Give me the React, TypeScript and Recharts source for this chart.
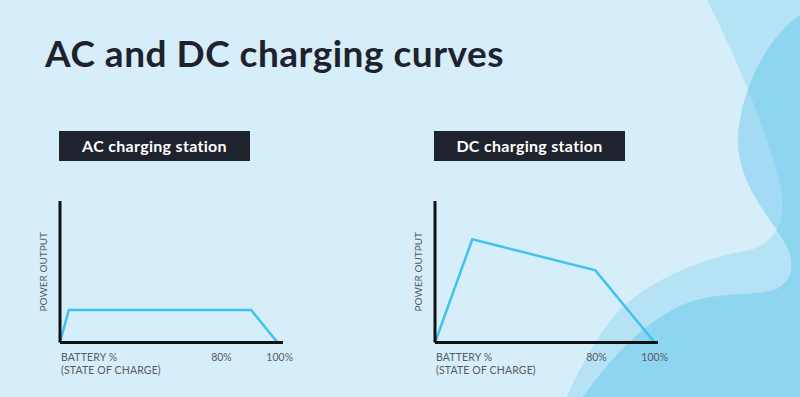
import React from 'react';
import { LineChart, Line, XAxis, YAxis } from 'recharts';

// x = position along the charge axis, y = relative power output
const acX = [0, 4, 87, 99];
const acY = [0, 23, 23, 0];
const dcX = [0, 17, 73, 100];
const dcY = [0, 73, 51, 0];

const tickAt = [0, 73.5, 100];
const tickText = ['BATTERY %', '80%', '100%'];
const xSubLabel = '(STATE OF CHARGE)';
const yLabel = 'POWER OUTPUT';

const title = 'AC and DC charging curves';
const acTitle = 'AC charging station';
const dcTitle = 'DC charging station';

const acData = acX.map((x, i) => ({ x, y: acY[i] }));
const dcData = dcX.map((x, i) => ({ x, y: dcY[i] }));

const FONT = 'Lato, "Open Sans", sans-serif';
const AXIS_TEXT = '#575b62';

function AxisTick(props: any) {
  const { x, y, payload } = props;
  const label = tickText[tickAt.indexOf(payload.value)];
  if (payload.value === 0) {
    return (
      <text x={x + 1} y={y + 10.5} fill={AXIS_TEXT} fontSize={10.5} fontFamily={FONT} letterSpacing={0.15}>
        <tspan x={x + 1}>{label}</tspan>
        <tspan x={x + 1} dy={12.5}>{xSubLabel}</tspan>
      </text>
    );
  }
  return (
    <text x={x} y={y + 10.5} fill={AXIS_TEXT} fontSize={10.5} fontFamily={FONT} textAnchor="middle">
      {label}
    </text>
  );
}

function ChargeChart({ data }: { data: { x: number; y: number }[] }) {
  return (
    <LineChart width={300} height={210} data={data} margin={{ top: 21, right: 17, bottom: 7.5, left: 26 }}>
      <XAxis
        type="number"
        dataKey="x"
        domain={[0, 101.5]}
        ticks={tickAt}
        interval={0}
        height={40}
        tickLine={false}
        axisLine={{ stroke: '#111', strokeWidth: 3 }}
        tick={(p: any) => <AxisTick {...p} />}
      />
      <YAxis
        type="number"
        domain={[0, 100]}
        width={34}
        tick={false}
        tickLine={false}
        axisLine={{ stroke: '#111', strokeWidth: 3 }}
        label={{ value: yLabel, angle: -90, position: 'center', fill: AXIS_TEXT, fontSize: 10, fontFamily: FONT }}
      />
      <Line type="linear" dataKey="y" stroke="#3fc3ee" strokeWidth={2.5} dot={false} isAnimationActive={false} />
    </LineChart>
  );
}

export default function App() {
  return (
    <div style={{ position: 'absolute', left: 0, top: 0, width: 800, height: 397, overflow: 'hidden', background: '#d6eef9' }}>
      <svg width={800} height={397} style={{ position: 'absolute', left: 0, top: 0 }}>
        <defs>
          <clipPath id="waveA">
            <path d="M707,0 C725,35 765,120 780,185 C786,215 782,240 750,250 C700,258 645,282 615,315 C595,340 578,370 567,397 L800,397 L800,0 Z" />
          </clipPath>
        </defs>
        <path d="M707,0 C725,35 765,120 780,185 C786,215 782,240 750,250 C700,258 645,282 615,315 C595,340 578,370 567,397 L800,397 L800,0 Z" fill="#b6e2f5" />
        <path d="M800,15 C770,35 742,85 738,135 C736,175 760,205 780,235 C795,255 797,280 775,290 C750,296 715,293 690,302 C655,315 620,345 583,397 L800,397 Z" fill="#a2dbf3" />
        <path clipPath="url(#waveA)" d="M800,15 C770,35 742,85 738,135 C736,175 760,205 780,235 C795,255 797,280 775,290 C750,296 715,293 690,302 C655,315 620,345 583,397 L800,397 Z" fill="#8ed5f0" />
        <text x={45} y={67} fill="#1e222d" fontSize={37} fontWeight={700} fontFamily={FONT} letterSpacing={0.5}>{title}</text>
        <rect x={59} y={131} width={191} height={30} fill="#1f232e" />
        <text x={154.5} y={152} fill="#fff" fontSize={16} fontWeight={700} fontFamily={FONT} letterSpacing={0.3} textAnchor="middle">{acTitle}</text>
        <rect x={434} y={131} width={191} height={30} fill="#1f232e" />
        <text x={529.5} y={152} fill="#fff" fontSize={16} fontWeight={700} fontFamily={FONT} letterSpacing={0.3} textAnchor="middle">{dcTitle}</text>
      </svg>
      <div style={{ position: 'absolute', left: 0, top: 180 }}>
        <ChargeChart data={acData} />
      </div>
      <div style={{ position: 'absolute', left: 375, top: 180 }}>
        <ChargeChart data={dcData} />
      </div>
    </div>
  );
}
